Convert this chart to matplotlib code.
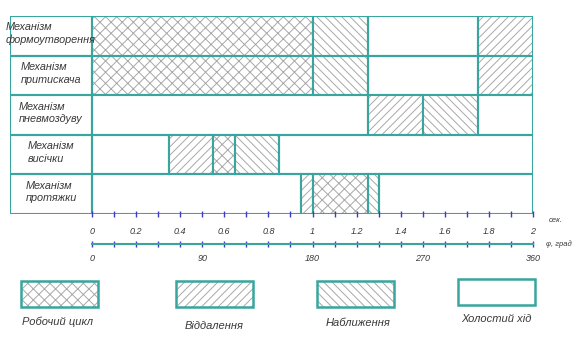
import matplotlib.pyplot as plt
from matplotlib.patches import Rectangle
import numpy as np

# mechanisms (top to bottom)
mechanisms = ['Механізм\nформоутворення', 'Механізм\nпритискача', 'Механізм\nпневмоздуву',
              'Механізм\nвисічки', 'Механізм\nпротяжки']

# phases per mechanism: (start, end, kind) in seconds
# kind: 'work' - робочий цикл, 'away' - віддалення, 'near' - наближення, 'idle' - холостий хід
phases = [
    [(0.0, 1.0, 'work'), (1.0, 1.25, 'near'), (1.25, 1.75, 'idle'), (1.75, 2.0, 'away')],
    [(0.0, 1.0, 'work'), (1.0, 1.25, 'near'), (1.25, 1.75, 'idle'), (1.75, 2.0, 'away')],
    [(0.0, 1.25, 'idle'), (1.25, 1.5, 'away'), (1.5, 1.75, 'near'), (1.75, 2.0, 'idle')],
    [(0.0, 0.35, 'idle'), (0.35, 0.55, 'away'), (0.55, 0.65, 'work'), (0.65, 0.85, 'near'), (0.85, 2.0, 'idle')],
    [(0.0, 0.95, 'idle'), (0.95, 1.0, 'away'), (1.0, 1.25, 'work'), (1.25, 1.3, 'near'), (1.3, 2.0, 'idle')],
]

time_ticks = [0, 0.2, 0.4, 0.6, 0.8, 1.0, 1.2, 1.4, 1.6, 1.8, 2.0]
time_labels = ['0', '0.2', '0.4', '0.6', '0.8', '1', '1.2', '1.4', '1.6', '1.8', '2']
angle_ticks = [0, 90, 180, 270, 360]

legend_kinds = ['work', 'away', 'near', 'idle']
legend_labels = ['Робочий цикл', 'Віддалення', 'Наближення', 'Холостий хід']

hatches = {'work': 'xxx', 'away': '////', 'near': '\\\\\\\\', 'idle': ''}

teal = '#38a69e'
blue = '#3b3bc8'
hatch_gray = '#a8a8a8'
text_col = '#3a3a3a'

plt.rcParams['hatch.linewidth'] = 0.7
plt.rcParams['font.family'] = ['Liberation Sans', 'DejaVu Sans']
plt.rcParams['font.style'] = 'italic'

fig = plt.figure(figsize=(5.77, 3.37), dpi=100)

# main diagram
label_w = 0.372
ax = fig.add_axes([10 / 577, 1 - 214 / 337, 523 / 577, 198 / 337])
ax.set_xlim(-label_w, 2.0)
ax.set_ylim(len(mechanisms) - 0.5, -0.5)
for s in ax.spines.values():
    s.set_visible(False)

for i, (name, segs) in enumerate(zip(mechanisms, phases)):
    ax.barh(i, label_w, left=-label_w, height=1, fill=False, edgecolor=teal, linewidth=1.5)
    ax.text(-label_w / 2, i - 0.05, name, ha='center', va='center', multialignment='left',
            fontsize=7.8, color=text_col, linespacing=1.3)
    for start, end, kind in segs:
        if hatches[kind]:
            ax.barh(i, end - start, left=start, height=1, color='white',
                    edgecolor=hatch_gray, linewidth=0, hatch=hatches[kind])
        ax.barh(i, end - start, left=start, height=1, fill=False,
                edgecolor=teal, linewidth=1.5)

ax.set_yticks([])
ax.set_xticks(time_ticks)
ax.set_xticklabels(time_labels)
ax.set_xticks(np.arange(0.1, 2.0, 0.2), minor=True)
ax.tick_params(axis='x', which='both', direction='inout', length=5, width=1,
               color=blue, labelsize=6.5, labelcolor=text_col, pad=7)
ax.text(1.03, -0.035, 'сек.', transform=ax.transAxes, fontsize=5.5, color=text_col,
        ha='left', va='center')

# angle axis
ax2 = fig.add_axes([92 / 577, 1 - 244 / 337, 441 / 577, 0.0001])
ax2.set_xlim(0, 360)
for k in ['top', 'left', 'right']:
    ax2.spines[k].set_visible(False)
ax2.spines['bottom'].set_color(teal)
ax2.spines['bottom'].set_linewidth(1.5)
ax2.set_yticks([])
ax2.set_xticks(angle_ticks)
ax2.set_xticks(np.arange(18, 360, 18), minor=True)
ax2.tick_params(axis='x', which='both', direction='inout', length=5, width=1,
                color=blue, labelsize=6.5, labelcolor=text_col, pad=5)
ax2.text(1.03, 0, 'φ, град', transform=ax2.transAxes, fontsize=5.5, color=text_col,
         ha='left', va='center')

# legend
lax = fig.add_axes([0, 0, 1, 1])
lax.set_xlim(0, 577)
lax.set_ylim(337, 0)
lax.axis('off')
box_x = [21, 176, 317, 458]
box_y = [281, 281, 281, 279]
text_pos = [(57, 322), (214, 326), (358, 323), (496, 319)]
for kind, lab, x0, y0, (tx, ty) in zip(legend_kinds, legend_labels, box_x, box_y, text_pos):
    if hatches[kind]:
        lax.add_patch(Rectangle((x0, y0), 77, 26, facecolor='white', edgecolor=hatch_gray,
                                linewidth=0, hatch=hatches[kind]))
    lax.add_patch(Rectangle((x0, y0), 77, 26, fill=False, edgecolor=teal, linewidth=1.8))
    lax.text(tx, ty, lab, ha='center', va='center', fontsize=8, color=text_col)

fig.savefig('out.png', dpi=100)
